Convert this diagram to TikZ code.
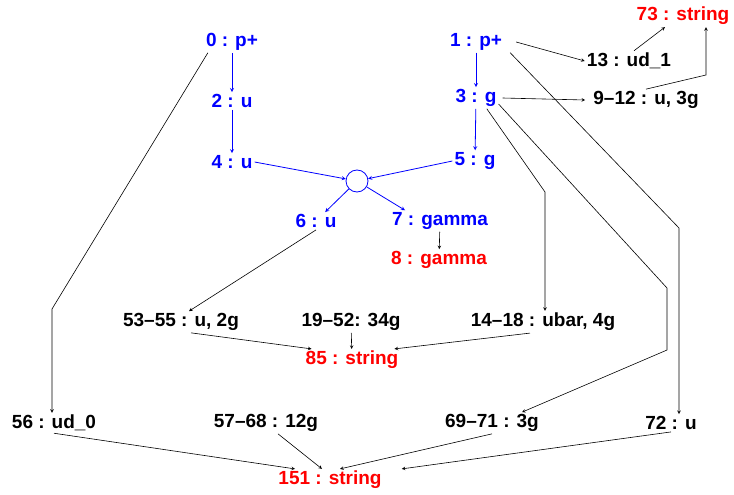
\documentclass[tikz,border=0pt]{standalone}
\usepackage{fontspec}
\setmainfont{Liberation Sans}
\usetikzlibrary{arrows}
\tikzset{
	partlabel/.style={font=\fontsize{19}{21}\selectfont\bfseries, inner sep=2pt}
}
\tikzset{
	hardpart/.style={partlabel, text=blue},
	softpart/.style={partlabel, text=black},
	finalpart/.style={partlabel, text=red},
	vertex/.style={draw=blue, circle, line width=0.8pt, minimum size=22pt, inner sep=0pt}
}
\tikzset{
	hardflow/.style={->, blue, line width=0.8pt},
	softflow/.style={->, black, line width=0.6pt}
}

\begin{document}
\begin{tikzpicture}[>=stealth, x=1pt, y=-1pt]
      \useasboundingbox (0,0) rectangle (734,495);
      \node[hardpart] (p0)  at (232,42)  {0 : p+};
      \node[hardpart] (p1)  at (476,42)  {1 : p+};
      \node[hardpart] (p2)  at (232,101) {2 : u};
      \node[hardpart] (p3)  at (476,98)  {3 : g};
      \node[hardpart] (p4)  at (232,162) {4 : u};
      \node[hardpart] (p5)  at (475,161) {5 : g};
      \node[vertex]   (vx)  at (357,181) {};
      \node[hardpart] (p6)  at (316,221) {6 : u};
      \node[hardpart] (p7)  at (440,221) {7 : gamma};
      \node[finalpart] (p8) at (439,260) {8 : gamma};
      \node[softpart] (p13) at (629,61)  {13 : ud\_1};
      \node[finalpart] (p73) at (683,16) {73 : string};
      \node[softpart] (p9)  at (646,100) {9--12 : u, 3g};
      \node[softpart] (p53) at (181,322) {53--55 : u, 2g};
      \node[softpart] (p19) at (351,322) {19--52: 34g};
      \node[softpart] (p14) at (543,322) {14--18 : ubar, 4g};
      \node[finalpart] (p85) at (352,360) {85 : string};
      \node[softpart] (p56) at (54,423)  {56 : ud\_0};
      \node[softpart] (p57) at (266,423) {57--68 : 12g};
      \node[softpart] (p69) at (492,423) {69--71 : 3g};
      \node[softpart] (p72) at (671,423) {72 : u};
      \node[finalpart] (p151) at (330,480) {151 : string};
      \coordinate (k0)  at (52,309);
      \coordinate (k1)  at (679,228);
      \coordinate (k3a) at (545,192);
      \coordinate (k3b) at (667,288);
      \coordinate (k3c) at (667,350);
      \coordinate (k9)  at (706,75);
      \draw[hardflow] (p0) -- (p2);
      \draw[hardflow] (p2) -- (p4);
      \draw[hardflow] (p1) -- (p3);
      \draw[hardflow] (p3) -- (p5);
      \draw[hardflow] (p4.east) -- (vx);
      \draw[hardflow] (p5.west) -- (vx);
      \draw[hardflow] (vx) -- (p6);
      \draw[hardflow] (vx) -- ([xshift=-35]p7.north);
      \draw[softflow] (p7) -- (p8);
      \draw[softflow] ([xshift=12]p1.east) -- (p13.west);
      \draw[softflow] ([xshift=5]p13.north) -- ([xshift=-18]p73.south);
      \draw[softflow] (p9.north) -- (k9) -- (k9 |- p73.south);
      \draw[softflow] ([xshift=4]p3.east) -- ([xshift=-6]p9.west);
      \draw[softflow] ([xshift=6]p1.south east) -- (k1) -- (k1 |- p72.north);
      \draw[softflow] (p3.-45) -- (k3a) -- (k3a |- p14.north);
      \draw[softflow] (p3.-15) -- (k3b) -- (k3c) -- ([xshift=30]p69.north);
      \draw[softflow] ([xshift=4]p0.south west) -- (k0) -- (k0 |- p56.north);
      \draw[softflow] (p6.south) -- ([xshift=8]p53.north);
      \draw[softflow] ([xshift=10]p53.south) -- ([xshift=8]p85.north west);
      \draw[softflow] (p19) -- (p85);
      \draw[softflow] ([xshift=-13]p14.south) -- ([xshift=-6]p85.north east);
      \draw[softflow] (p56.south) -- ([xshift=-35]p151.north);
      \draw[softflow] ([xshift=12]p57.south) -- ([xshift=-8]p151.north);
      \draw[softflow] (p69.south) -- ([xshift=10]p151.north);
      \draw[softflow] (p72.south) -- ([xshift=18]p151.north east);
    \end{tikzpicture}
\end{document}
